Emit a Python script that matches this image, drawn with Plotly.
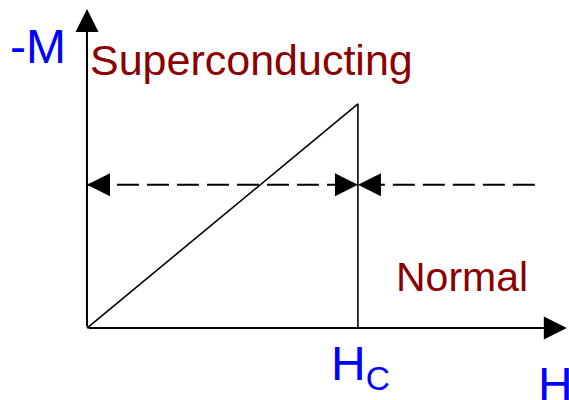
import plotly.graph_objects as go

# Conceptual data (units: H / Hc, -M / Mc)
H_curve = [0.0, 1.0, 1.0]          # applied field along the magnetisation curve
negM_curve = [0.0, 1.0, 0.0]       # -M along the curve (linear rise, drop at Hc)
H_c = 1.0                          # critical field
field_level = 0.64                 # level of the dashed field sweep arrows
H_sweep_end = 1.653                # right end of the dashed sweep
H_axis_end = 1.771                 # tip of H axis arrow
M_axis_end = 1.424                 # tip of -M axis arrow

labels = {
    "ymark": "-M",
    "xmark": "H",
    "hc": "H<sub>C</sub>",
    "sc": "Superconducting",
    "normal": "Normal",
}

W, H = 569, 400
x_range = [-0.321, 1.779]
y_range = [-0.321, 1.464]

BLUE = "#0000FF"
DRED = "#8B0000"
FONT = "Liberation Sans, Arial, sans-serif"

fig = go.Figure()

# magnetisation curve
fig.add_trace(go.Scatter(x=H_curve, y=negM_curve, mode="lines",
                         line=dict(color="black", width=1.6),
                         hoverinfo="skip", showlegend=False))
# dashed sweep lines
fig.add_trace(go.Scatter(x=[0.0, H_c], y=[field_level, field_level], mode="lines",
                         line=dict(color="black", width=2, dash="22px,8px"),
                         hoverinfo="skip", showlegend=False))
fig.add_trace(go.Scatter(x=[H_sweep_end, H_c], y=[field_level, field_level], mode="lines",
                         line=dict(color="black", width=2, dash="22px,8px"),
                         hoverinfo="skip", showlegend=False))

ann = []
arrow_common = dict(showarrow=True, arrowhead=2, arrowsize=2.3, arrowwidth=2,
                    arrowcolor="black", text="")
# axes
ann.append(dict(x=0, y=M_axis_end, ax=0, ay=0, axref="x", ayref="y",
                xref="x", yref="y", **arrow_common))
ann.append(dict(x=H_axis_end, y=0, ax=0, ay=0, axref="x", ayref="y",
                xref="x", yref="y", **arrow_common))
# dashed-line arrow heads
ann.append(dict(x=0, y=field_level, ax=9, ay=0, xref="x", yref="y", **arrow_common))
ann.append(dict(x=H_c, y=field_level, ax=-9, ay=0, xref="x", yref="y", **arrow_common))
ann.append(dict(x=H_c, y=field_level, ax=9, ay=0, xref="x", yref="y", **arrow_common))

def px(xp, yp):
    return xp / W, 1 - yp / H

def label(text, xp, yp, color, size):
    x, y = px(xp, yp)
    ann.append(dict(text=text, x=x, y=y, xref="paper", yref="paper",
                    xanchor="left", yanchor="middle", showarrow=False,
                    font=dict(family=FONT, size=size, color=color)))

label(labels["ymark"], 8, 46, BLUE, 48)
label(labels["sc"], 88, 60, DRED, 43)
label(labels["normal"], 394, 277, DRED, 41)
label(labels["hc"], 329, 367, BLUE, 48)
label(labels["xmark"], 536, 384, BLUE, 48)

fig.update_layout(
    width=W, height=H,
    margin=dict(l=0, r=0, t=0, b=0),
    paper_bgcolor="white", plot_bgcolor="white",
    xaxis=dict(range=x_range, visible=False, fixedrange=True),
    yaxis=dict(range=y_range, visible=False, fixedrange=True),
    annotations=ann,
    showlegend=False,
)

fig.write_html("out.html", config={"displayModeBar": False},
               post_script="document.body.style.margin='0';document.body.style.overflow='hidden';")
